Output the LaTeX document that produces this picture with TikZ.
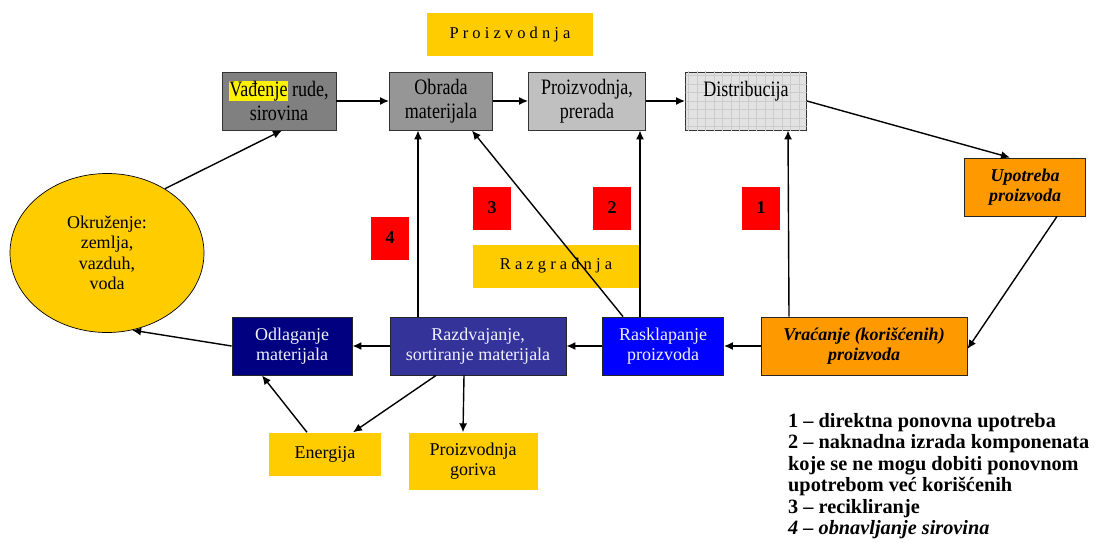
\documentclass[tikz,border=0pt]{standalone}
\usepackage{fontspec}
\setmainfont{Liberation Serif}
\newfontfamily\narrowfont[FakeStretch=0.82]{Liberation Serif}
\usetikzlibrary{arrows.meta,patterns.meta,shapes.geometric}

\definecolor{gold}{HTML}{FFCC00}
\definecolor{amber}{HTML}{FF9900}
\definecolor{greyA}{HTML}{808080}
\definecolor{greyB}{HTML}{969696}
\definecolor{greyC}{HTML}{C0C0C0}
\definecolor{greyD}{HTML}{E2E2E2}
\definecolor{navyA}{HTML}{000080}
\definecolor{indigoA}{HTML}{333399}
\definecolor{blueA}{HTML}{0000FF}
\definecolor{paleText}{HTML}{F0F0FF}

\setlength{\fboxsep}{0pt}

\tikzset{
  topbox/.style={draw=black!80, line width=0.9pt, minimum height=58pt, inner sep=0pt,
    align=center, font=\narrowfont\fontsize{22}{24}\selectfont},
  lowbox/.style={draw=black!85, line width=0.9pt, minimum height=58pt, inner sep=0pt,
    align=center, font=\fontsize{18}{19.5}\selectfont},
  tag/.style={fill=gold, inner sep=0pt, align=center, font=\fontsize{18}{20}\selectfont},
  spaced/.style={fill=gold, minimum height=43pt, inner sep=0pt, font=\fontsize{16.5}{19}\selectfont},
  num/.style={fill=red, minimum width=38pt, minimum height=43pt, inner sep=0pt,
    font=\bfseries\fontsize{18}{20}\selectfont},
  flow/.style={-{Latex[length=9pt,width=8pt]}, line width=1.4pt},
}

\begin{document}
\begin{tikzpicture}[x=1pt, y=-1pt]
  \useasboundingbox (0,0) rectangle (1095,543);
  % upper row
  \node[spaced, minimum width=166pt] (ptag) at (510,35) {P r o i z v o d n j a};
  \node[topbox, fill=greyA, minimum width=114pt] (vad) at (279,101) {\colorbox{yellow}{Vađenje} rude,\\sirovina};
  \node[topbox, fill=greyB, minimum width=103pt] (obr) at (441,101) {Obrada\\materijala};
  \node[topbox, fill=greyC, minimum width=117pt] (pro) at (587,101) {Proizvodnja,\\prerada};
  \node[topbox, minimum width=121pt, preaction={fill=greyD},
    postaction={pattern={Lines[distance=8.5pt,angle=0,line width=0.4pt]}, pattern color=black!20},
    postaction={pattern={Lines[distance=8.5pt,angle=90,line width=0.4pt]}, pattern color=black!20}]
    (dis) at (746,101) {Distribucija\\\mbox{}};
  \node[lowbox, fill=amber, minimum width=121pt, font=\bfseries\itshape\fontsize{18}{20}\selectfont]
    (upo) at (1025,187) {Upotreba\\proizvoda};
  % environment
  \node[ellipse, draw, line width=0.7pt, fill=gold, minimum width=194pt, minimum height=159pt,
    inner sep=0pt, align=center, font=\fontsize{18}{20.5}\selectfont]
    (okr) at (107,253) {Okruženje:\\zemlja,\\vazduh,\\voda};
  % numbered markers
  \node[num] (n3) at (492,208) {3};
  \node[num] (n2) at (612,208) {2};
  \node[num] (n1) at (761,208) {1};
  \node[num] (n4) at (390,238) {4};
  \node[spaced, minimum width=167pt] (rtag) at (556,266) {R a z g r a d n j a};
  % lower row
  \node[lowbox, fill=navyA, text=paleText, minimum width=120pt] (odl) at (292,346) {Odlaganje\\materijala};
  \node[lowbox, fill=indigoA, text=paleText, minimum width=176pt] (raz) at (478,346) {Razdvajanje,\\sortiranje materijala};
  \node[lowbox, fill=blueA, text=paleText, minimum width=121pt] (ras) at (663,346) {Rasklapanje\\proizvoda};
  \node[lowbox, fill=amber, minimum width=206pt, font=\bfseries\itshape\fontsize{18}{20}\selectfont]
    (vra) at (864,346) {Vraćanje (korišćenih)\\proizvoda};
  \node[tag, minimum width=112pt, minimum height=43pt] (ene) at (325,454) {Energija};
  \node[tag, minimum width=129pt, minimum height=57pt] (gor) at (473,461) {Proizvodnja\\goriva};
  % legend
  \node[anchor=north west, inner sep=0pt, align=left, font=\bfseries\fontsize{20.3}{21.5}\selectfont]
    (leg) at (788,413) {1 – direktna ponovna upotreba\\
      2 – naknadna izrada komponenata\\
      koje se ne mogu dobiti ponovnom\\
      upotrebom već korišćenih\\
      3 – recikliranje\\
      \textit{4 – obnavljanje sirovina}};

  \draw[flow] (vad) -- (obr);
  \draw[flow] (obr) -- (pro);
  \draw[flow] (pro) -- (dis);
  \draw[flow] (dis.east) -- ([xshift=-15pt]upo.north);
  \draw[flow] ([xshift=32pt]upo.south) -- ([yshift=-3pt]vra.east);
  \draw[flow] (vra) -- (ras);
  \draw[flow] (ras) -- (raz);
  \draw[flow] (raz) -- (odl);
  \draw[flow] (odl.west) -- (okr.-72);
  \draw[flow] (okr.48) -- ([xshift=3pt]vad.south);
  \draw[flow] ([xshift=-60pt]raz.north) -- ([xshift=-23pt]obr.south);
  \draw[flow] ([xshift=-40pt]ras.north) -- ([xshift=-21pt]obr.south east);
  \draw[flow] ([xshift=-23pt]ras.north) -- ([xshift=53pt]pro.south);
  \draw[flow] ([xshift=-75pt]vra.north) -- ([xshift=42pt]dis.south);
  \draw[flow] ([xshift=-42pt]raz.south) -- ([xshift=28pt]ene.north);
  \draw[flow] ([xshift=-14pt]raz.south) -- ([xshift=-10pt]gor.north);
  \draw[flow] ([xshift=-18pt]ene.north) -- ([xshift=-30pt]odl.south);
\end{tikzpicture}
\end{document}
